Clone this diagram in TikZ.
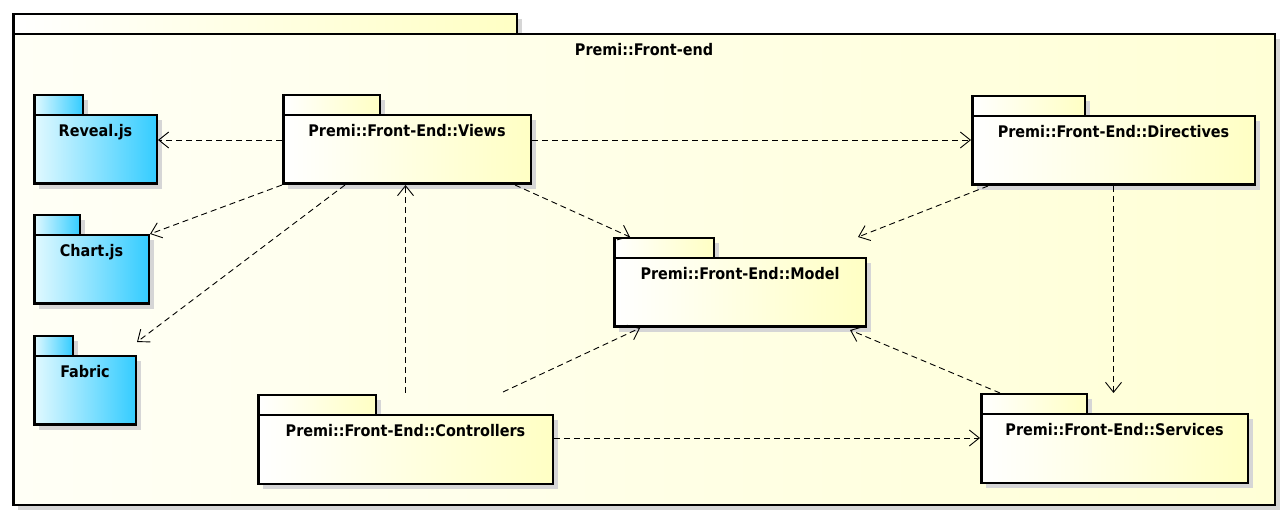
\documentclass[tikz,border=0pt]{standalone}
\usepackage{fontspec}
\newfontfamily\pkgfont{DejaVu Sans Condensed}
\usetikzlibrary{positioning, arrows.meta, shadows, calc}
\definecolor{pkgyellow}{RGB}{255,255,196}
\definecolor{framelight}{RGB}{255,255,246}
\definecolor{framefill}{RGB}{255,255,214}
\definecolor{pkgcyanlight}{RGB}{225,249,255}
\definecolor{pkgcyan}{RGB}{52,204,255}
\newcommand{\boundarycolor}{black}
\newcommand{\shadowcolor}{black!16}
\tikzset{pkg shadow/.style={general shadow={fill=\shadowcolor, shadow xshift=5pt, shadow yshift=-5pt}}}

\begin{document}
\begin{tikzpicture}[x=1pt,y=-1pt,font=\pkgfont\bfseries\fontsize{16}{19}\selectfont,
	pkg/.style={rectangle, draw=\boundarycolor, line width=2.5pt, anchor=north west, inner xsep=0pt, inner ysep=0pt,
		minimum width=#1, text height=21.5pt, text depth=47pt, pkg shadow},
	tab/.style={rectangle, draw=\boundarycolor, line width=2.5pt, anchor=north west, inner sep=0pt,
		minimum width=#1, minimum height=20pt, pkg shadow},
	yel/.style={left color=white, right color=pkgyellow},
	cya/.style={left color=pkgcyanlight, right color=pkgcyan},
	dep/.style={line width=0.9pt, dash pattern=on 6pt off 4pt, -{Straight Barb[length=10pt, width=16pt]}}]
	\useasboundingbox[fill=white] (0,0) rectangle (1288,518);
	%%
	\node[tab=503.5pt, yel] (fetab) at (12,13) {};
	\node[pkg=1261.5pt, left color=framelight, right color=framefill, text depth=449pt] (fe) at (12,33) {Premi::Front-end};
	%%
	\node[tab=48.5pt, cya] (revealtab) at (33,94) {};
	\node[pkg=122.5pt, cya] (reveal) at (33,114) {Reveal.js};
	\node[tab=45.5pt, cya] (charttab) at (33,214) {};
	\node[pkg=114.5pt, cya] (chart) at (33,234) {Chart.js};
	\node[tab=38.5pt, cya] (fabrictab) at (33,335) {};
	\node[pkg=101.5pt, cya] (fabric) at (33,355) {Fabric};
	%%
	\node[tab=96.5pt, yel] (viewstab) at (282,94) {};
	\node[pkg=247.5pt, yel] (views) at (282,114) {Premi::Front-End::Views};
	\node[tab=112.5pt, yel] (dirstab) at (971,95) {};
	\node[pkg=282.5pt, yel] (dirs) at (971,115) {Premi::Front-End::Directives};
	\node[tab=99.5pt, yel] (modeltab) at (613,237) {};
	\node[pkg=251.5pt, yel] (model) at (613,257) {Premi::Front-End::Model};
	\node[tab=117.5pt, yel] (ctrltab) at (257,394) {};
	\node[pkg=294.5pt, yel] (ctrl) at (257,414) {Premi::Front-End::Controllers};
	\node[tab=105.5pt, yel] (svctab) at (980,393) {};
	\node[pkg=266.5pt, yel] (svc) at (980,413) {Premi::Front-End::Services};
	%%
	\draw[dep] ([yshift=9.5pt]views.west) -- ([yshift=9.5pt]reveal.east);
	\draw[dep] (views.south west) -- (chart.north east);
	\draw[dep] ($(views.south west)+(63,0)$) -- ($(fabric.north east)+(0,-13)$);
	\draw[dep] ([yshift=9.5pt]views.east) -- ([yshift=9.5pt]views.east -| dirs.west);
	\draw[dep] ($(views.south east)+(-17,0)$) -- ($(modeltab.north west)+(17,0)$);
	\draw[dep] ($(ctrl.north)+(0,-21)$) -- (ctrl.north |- views.south);
	\draw[dep] ($(ctrl.north east)+(-51,-22)$) -- ($(model.south west)+(27,0)$);
	\draw[dep] ([yshift=11.5pt]ctrl.east) -- ([yshift=11.5pt]ctrl.east -| svc.west);
	\draw[dep] ($(dirs.south west)+(17,0)$) -- ($(model.north east)+(-9,-20)$);
	\draw[dep] (dirs.south) -- (dirs.south |- svctab.north);
	\draw[dep] ($(svctab.north west)+(20,0)$) -- ($(model.south east)+(-17,2)$);
\end{tikzpicture}
\end{document}
